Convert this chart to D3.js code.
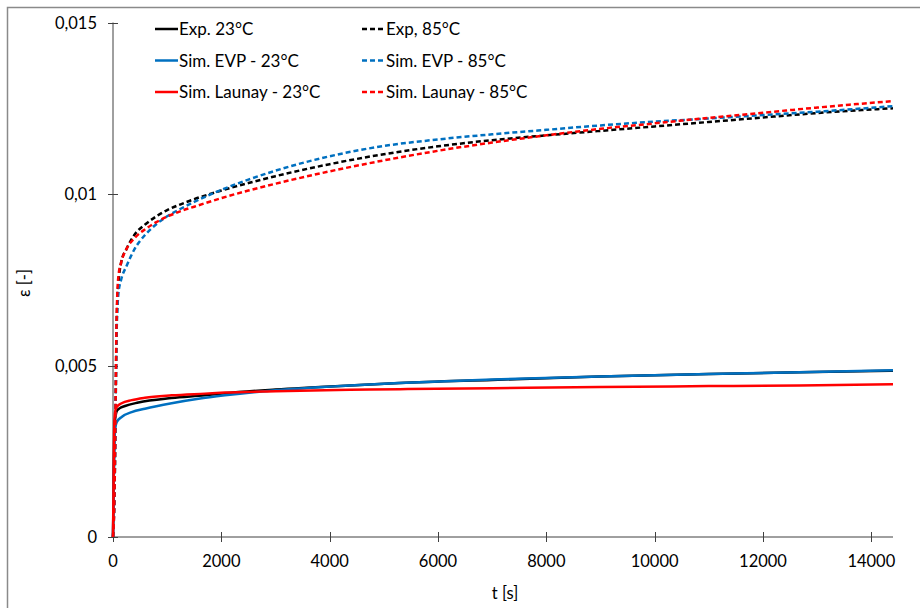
<!DOCTYPE html>
<html>
<head>
<meta charset="utf-8">
<script src="https://cdn.jsdelivr.net/npm/d3@7"></script>
<style>
  html, body { margin: 0; padding: 0; background: #fff; }
  svg { display: block; }
  text { font-family: Lato, "Noto Sans", sans-serif; fill: #000; }
</style>
</head>
<body>
<svg id="chart" width="920" height="608"></svg>
<script>
// ---- data (t [s], strain [-]) ----
const xTicks = [0, 2000, 4000, 6000, 8000, 10000, 12000, 14000];
const yTicks = [0, 0.005, 0.01, 0.015];
const yTickLabels = ["0", "0,005", "0,01", "0,015"];

const exp23 = [[0,0],[10,0.0012],[20,0.0026],[30,0.0033],[45,0.0035],[68,0.00367],[120,0.00375],[221,0.00382],[467,0.00392],[1083,0.00405],[1697,0.00413],[2066,0.00419],[3000,0.0043],[4373,0.00442],[5295,0.00449],[7000,0.00458],[8985,0.00468],[11000,0.00475],[12675,0.0048],[14400,0.00485]];
const evp23 = [[0,0],[10,0.0011],[20,0.0022],[30,0.0029],[45,0.0032],[68,0.00335],[160,0.0035],[345,0.00364],[590,0.00374],[1083,0.0039],[1577,0.00403],[2066,0.00413],[3000,0.00428],[4373,0.00442],[5295,0.00449],[7000,0.00459],[8985,0.00468],[11000,0.00475],[12675,0.0048],[14400,0.00486]];
const launay23 = [[0,0],[10,0.0015],[20,0.003],[30,0.0035],[45,0.0037],[68,0.00379],[160,0.0039],[345,0.00399],[590,0.00406],[1083,0.00413],[1697,0.00418],[2066,0.00421],[3000,0.00425],[4373,0.00429],[5295,0.00431],[7000,0.00434],[8985,0.00437],[11000,0.0044],[12675,0.00442],[14400,0.00445]];

const exp85 = [[0,0],[30,0.0015],[50,0.004],[65,0.006],[80,0.0069],[100,0.0074],[150,0.008],[250,0.0084],[400,0.00882],[600,0.00912],[800,0.00935],[1000,0.00953],[1250,0.0097],[1500,0.00985],[2000,0.0101],[2500,0.01032],[3000,0.01052],[4000,0.01087],[5000,0.01116],[6000,0.01139],[7000,0.01157],[8000,0.01171],[9000,0.01184],[10000,0.01197],[11000,0.0121],[12000,0.01223],[13000,0.01236],[14400,0.0125]];
const evp85 = [[0,0],[30,0.0015],[50,0.004],[65,0.0058],[80,0.0066],[100,0.0071],[150,0.0075],[250,0.0079],[400,0.0084],[600,0.00882],[800,0.00912],[1000,0.00935],[1250,0.00957],[1500,0.00977],[2000,0.01012],[2500,0.01042],[3000,0.01068],[4000,0.0111],[5000,0.0114],[6000,0.01159],[7000,0.01174],[8000,0.01187],[9000,0.012],[10000,0.01211],[11000,0.0122],[12000,0.0123],[13000,0.0124],[14400,0.01256]];
const launay85 = [[0,0],[30,0.0015],[50,0.0042],[65,0.0062],[80,0.0071],[100,0.0076],[150,0.008],[250,0.0084],[400,0.00872],[600,0.00898],[800,0.00918],[1000,0.00934],[1250,0.0095],[1500,0.00963],[2000,0.00988],[2500,0.0101],[3000,0.0103],[4000,0.01066],[5000,0.01098],[6000,0.01126],[7000,0.0115],[8000,0.01171],[9000,0.0119],[10000,0.01206],[11000,0.01222],[12000,0.01237],[13000,0.01252],[14400,0.01271]];

const seriesNames = ["Exp. 23°C", "Exp, 85°C", "Sim. EVP - 23°C", "Sim. EVP - 85°C", "Sim. Launay - 23°C", "Sim. Launay - 85°C"];
const seriesData = [exp23, exp85, evp23, evp85, launay23, launay85];
const seriesColors = ["#000000", "#000000", "#0070C0", "#0070C0", "#FF0000", "#FF0000"];
const seriesDashed = [false, true, false, true, false, true];

// ---- layout ----
const svg = d3.select("#chart");
const x = d3.scaleLinear().domain([0, 14400]).range([113, 893]);
const y = d3.scaleLinear().domain([0, 0.015]).range([537, 22.5]);

// outer frame (cropped at right/bottom)
svg.append("rect").attr("x", 7.5).attr("y", 7.5).attr("width", 930).attr("height", 620)
  .attr("fill", "#fff").attr("stroke", "#8a8a8a").attr("stroke-width", 1.5);

// axes
const axisColor = "#404040";
svg.append("line").attr("x1", x(0)).attr("x2", x(14400)).attr("y1", y(0)).attr("y2", y(0))
  .attr("stroke", axisColor).attr("stroke-width", 1);
svg.selectAll(".xtick").data(xTicks).enter().append("line")
  .attr("x1", d => Math.round(x(d)) + 0.5).attr("x2", d => Math.round(x(d)) + 0.5)
  .attr("y1", y(0) - 5).attr("y2", y(0) + 5).attr("stroke", axisColor).attr("stroke-width", 1);
svg.selectAll(".xlab").data(xTicks).enter().append("text")
  .attr("x", d => x(d)).attr("y", 567).attr("text-anchor", "middle")
  .attr("font-size", "16.5px").text(d => d3.format("d")(d));

svg.append("line").attr("x1", x(0)).attr("x2", x(0)).attr("y1", y(0)).attr("y2", y(0.015))
  .attr("stroke", axisColor).attr("stroke-width", 1);
svg.selectAll(".ytick").data(yTicks).enter().append("line")
  .attr("x1", x(0) - 5).attr("x2", x(0) + 5)
  .attr("y1", d => Math.round(y(d)) + 0.5).attr("y2", d => Math.round(y(d)) + 0.5)
  .attr("stroke", axisColor).attr("stroke-width", 1);
svg.selectAll(".ylab").data(yTicks).enter().append("text")
  .attr("x", 97).attr("y", d => y(d) + 6).attr("text-anchor", "end")
  .attr("font-size", "16.5px").text((d, i) => yTickLabels[i]);

// axis titles
svg.append("text").attr("x", 505).attr("y", 599).attr("text-anchor", "middle")
  .attr("font-size", "16.5px").text("t [s]");
svg.append("text").attr("transform", "translate(30,283) rotate(-90)").attr("text-anchor", "middle")
  .attr("font-size", "16.5px").text("ε [-]");

// lines
const line = d3.line().x(d => x(d[0])).y(d => y(d[1])).curve(d3.curveMonotoneX);
seriesData.forEach((data, i) => {
  svg.append("path").datum(data).attr("d", line)
    .attr("fill", "none").attr("stroke", seriesColors[i]).attr("stroke-width", 2.5)
    .attr("stroke-dasharray", seriesDashed[i] ? "5,3" : null)
    .attr("stroke-linejoin", "round");
});

// legend
const legCols = [155, 362];
const legRows = [29, 60.5, 92];
seriesNames.forEach((name, i) => {
  const col = i % 2, row = Math.floor(i / 2);
  const lx = legCols[col], ly = legRows[row];
  svg.append("line").attr("x1", lx).attr("x2", lx + 23).attr("y1", ly).attr("y2", ly)
    .attr("stroke", seriesColors[i]).attr("stroke-width", 2.5)
    .attr("stroke-dasharray", seriesDashed[i] ? "5,3" : null);
  svg.append("text").attr("x", lx + 24).attr("y", ly + 6).attr("font-size", "17px").text(name);
});
</script>
</body>
</html>
